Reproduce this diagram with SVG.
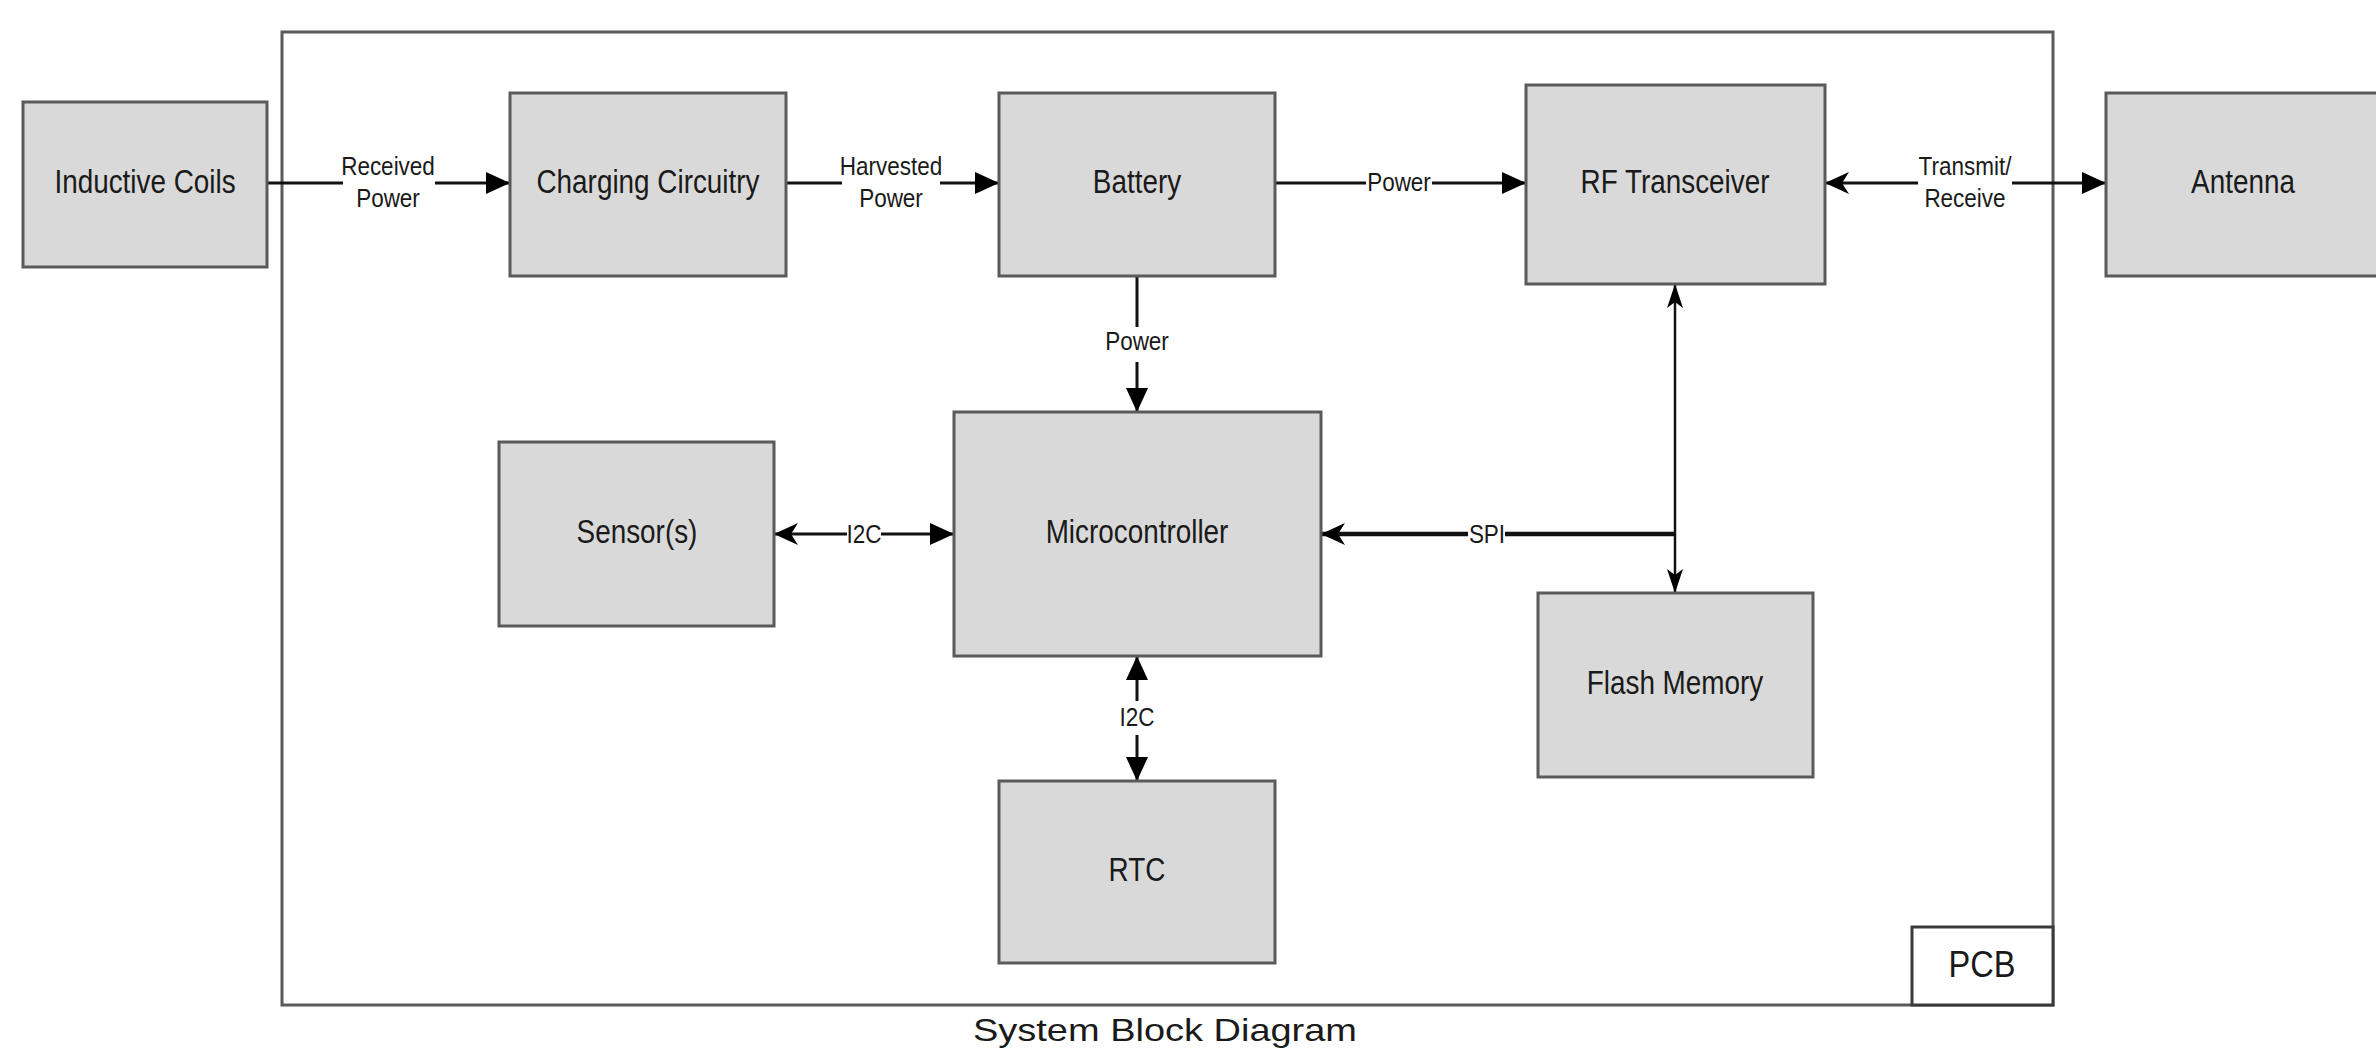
<svg xmlns="http://www.w3.org/2000/svg" width="2376" height="1049" viewBox="0 0 2376 1049">
<style>
.box{fill:#d9d9d9;stroke:#5a5a5a;stroke-width:3}
.n{font-family:"Liberation Sans",Arial,sans-serif;font-size:34px;fill:#1a1a1a;text-anchor:middle}
.l{font-family:"Liberation Sans",Arial,sans-serif;font-size:25px;fill:#1a1a1a;text-anchor:middle}
.c{fill:none;stroke:#111;stroke-width:3}
.t{font-family:"Liberation Sans",Arial,sans-serif;fill:#1a1a1a;text-anchor:middle}
</style>
<defs>
<marker id="tri" markerUnits="userSpaceOnUse" markerWidth="24" markerHeight="22" refX="24" refY="11" orient="auto-start-reverse" viewBox="0 0 24 22">
<path d="M0,0 L24,11 L0,22 z" fill="#000"/>
</marker>
<marker id="barb" markerUnits="userSpaceOnUse" markerWidth="24" markerHeight="22" refX="24" refY="11" orient="auto-start-reverse" viewBox="0 0 24 22">
<path d="M0,0 L24,11 L0,22 L7,11 z" fill="#000"/>
</marker>
<marker id="barbn" markerUnits="userSpaceOnUse" markerWidth="24" markerHeight="16" refX="24" refY="8" orient="auto-start-reverse" viewBox="0 0 24 16">
<path d="M0,0 L24,8 L0,16 L6,8 z" fill="#000"/>
</marker>
</defs>
<rect width="2376" height="1049" fill="#fff"/>

<g id="pcb">
<rect x="282" y="32" width="1771" height="973" fill="none" stroke="#5a5a5a" stroke-width="3"/>
<rect x="1912" y="927" width="141" height="78" fill="#fff" stroke="#3a3a3a" stroke-width="3"/>
<text class="t" font-size="37" transform="translate(1982,977) scale(0.88,1)">PCB</text>
</g>

<g id="connectors">
<path class="c" d="M267 183 H343 M435 183 H510" marker-end="url(#tri)"/>
<text class="l" transform="translate(388,175) scale(0.9,1)">Received</text>
<text class="l" transform="translate(388,207) scale(0.9,1)">Power</text>

<path class="c" d="M786 183 H842 M940 183 H999" marker-end="url(#tri)"/>
<text class="l" transform="translate(891,175) scale(0.9,1)">Harvested</text>
<text class="l" transform="translate(891,207) scale(0.9,1)">Power</text>

<path class="c" d="M1275 183 H1366 M1432 183 H1526" marker-end="url(#tri)"/>
<text class="l" transform="translate(1399,191) scale(0.9,1)">Power</text>

<path class="c" d="M1825 183 H1918 M2012 183 H2106" marker-start="url(#barb)" marker-end="url(#tri)"/>
<text class="l" transform="translate(1965,175) scale(0.9,1)">Transmit/</text>
<text class="l" transform="translate(1965,207) scale(0.9,1)">Receive</text>

<path class="c" d="M1137 275 V327 M1137 362 V412" marker-end="url(#tri)"/>
<text class="l" transform="translate(1137,350) scale(0.9,1)">Power</text>

<path class="c" style="stroke-width:2.5" d="M1675 284 V593" marker-start="url(#barbn)" marker-end="url(#barbn)"/>

<path class="c" style="stroke-width:4.5" d="M1675 534 H1505 M1468 534 H1321" marker-end="url(#barb)"/>
<text class="l" transform="translate(1487,543) scale(0.9,1)">SPI</text>

<path class="c" d="M774 534 H847 M881 534 H954" marker-start="url(#barb)" marker-end="url(#tri)"/>
<text class="l" transform="translate(864,543) scale(0.9,1)">I2C</text>

<path class="c" d="M1137 656 V701 M1137 735 V781" marker-start="url(#tri)" marker-end="url(#tri)"/>
<text class="l" transform="translate(1137,726) scale(0.9,1)">I2C</text>
</g>

<g id="inductive-coils">
<rect class="box" x="23" y="102" width="244" height="165"/>
<text class="n" transform="translate(145,193) scale(0.82,1)">Inductive Coils</text>
</g>
<g id="charging-circuitry">
<rect class="box" x="510" y="93" width="276" height="183"/>
<text class="n" transform="translate(648,193) scale(0.82,1)">Charging Circuitry</text>
</g>
<g id="battery">
<rect class="box" x="999" y="93" width="276" height="183"/>
<text class="n" transform="translate(1137,193) scale(0.82,1)">Battery</text>
</g>
<g id="rf-transceiver">
<rect class="box" x="1526" y="85" width="299" height="199"/>
<text class="n" transform="translate(1675,193) scale(0.82,1)">RF Transceiver</text>
</g>
<g id="antenna">
<rect class="box" x="2106" y="93" width="276" height="183"/>
<text class="n" transform="translate(2243,193) scale(0.82,1)">Antenna</text>
</g>
<g id="sensors">
<rect class="box" x="499" y="442" width="275" height="184"/>
<text class="n" transform="translate(637,543) scale(0.82,1)">Sensor(s)</text>
</g>
<g id="microcontroller">
<rect class="box" x="954" y="412" width="367" height="244"/>
<text class="n" transform="translate(1137,543) scale(0.82,1)">Microcontroller</text>
</g>
<g id="flash-memory">
<rect class="box" x="1538" y="593" width="275" height="184"/>
<text class="n" transform="translate(1675,694) scale(0.82,1)">Flash Memory</text>
</g>
<g id="rtc">
<rect class="box" x="999" y="781" width="276" height="182"/>
<text class="n" transform="translate(1137,881) scale(0.82,1)">RTC</text>
</g>

<text class="t" x="1165" y="1041" font-size="32" textLength="384" lengthAdjust="spacingAndGlyphs">System Block Diagram</text>
</svg>
